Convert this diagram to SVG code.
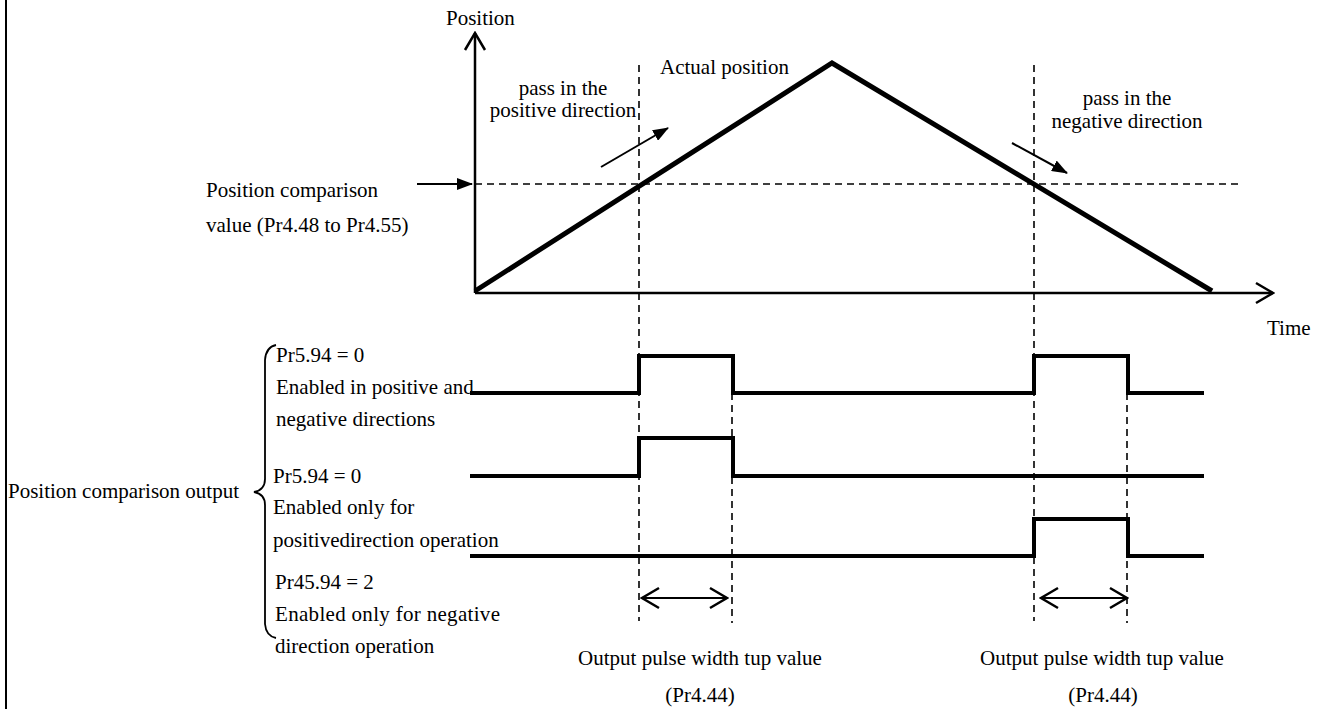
<svg xmlns="http://www.w3.org/2000/svg" width="1317" height="709" viewBox="0 0 1317 709">
<style>
text{font-family:"Liberation Serif","Times New Roman",serif;font-size:21px;fill:#000}
.c{text-anchor:middle}
.dash{stroke:#000;stroke-width:1.6;stroke-dasharray:7,5;fill:none}
.axis{stroke:#000;stroke-width:2.5;fill:none}
.thick{stroke:#000;stroke-width:5;fill:none;stroke-linejoin:miter}
.sig{stroke:#000;stroke-width:4;fill:none;stroke-linejoin:miter}
.arr{stroke:#000;stroke-width:2;fill:none}
</style>
<defs>
<marker id="open" viewBox="0 0 20 24" refX="18" refY="12" markerWidth="20" markerHeight="24" markerUnits="userSpaceOnUse" orient="auto-start-reverse">
<path d="M1,2 L18,12 L1,22" fill="none" stroke="#000" stroke-width="2.5"/>
</marker>
<marker id="fill" viewBox="0 0 16 12" refX="15" refY="6" markerWidth="16" markerHeight="12" markerUnits="userSpaceOnUse" orient="auto">
<path d="M0,0 L16,6 L0,12 z" fill="#000"/>
</marker>
</defs>
<line x1="6" y1="0" x2="6" y2="709" stroke="#000" stroke-width="2"/>
<g id="axes">
<line class="axis" x1="475" y1="293" x2="475" y2="33" marker-end="url(#open)"/>
<line class="axis" x1="475" y1="293" x2="1273" y2="293" marker-end="url(#open)"/>
<text x="446" y="25">Position</text>
<text x="1267" y="335">Time</text>
</g>
<g id="guides">
<line class="dash" x1="475" y1="184" x2="1240" y2="184"/>
<line class="dash" x1="639" y1="65" x2="639" y2="621"/>
<line class="dash" x1="1034" y1="65" x2="1034" y2="621"/>
<line class="dash" x1="732" y1="393" x2="732" y2="623"/>
<line class="dash" x1="1127" y1="393" x2="1127" y2="623"/>
</g>
<g id="actual-position">
<polyline class="thick" points="475,291 832,63 1212,291"/>
<text x="660" y="74">Actual position</text>
</g>
<g id="comparison-value">
<text x="206" y="197">Position comparison</text>
<text x="206" y="232">value (Pr4.48 to Pr4.55)</text>
</g>
<g id="pass-positive">
<text class="c" x="563" y="95">pass in the</text>
<text class="c" x="563" y="117">positive direction</text>
</g>
<g id="pass-negative">
<text class="c" x="1127" y="105">pass in the</text>
<text class="c" x="1127" y="128">negative direction</text>
</g>
<g id="connectors">
<line class="arr" x1="417" y1="184" x2="472" y2="184" marker-end="url(#fill)"/>
<line class="arr" x1="601" y1="167" x2="668" y2="128" marker-end="url(#fill)"/>
<line class="arr" x1="1012" y1="143" x2="1067" y2="173" marker-end="url(#fill)"/>
<line class="arr" x1="642" y1="598" x2="727" y2="598" marker-start="url(#open)" marker-end="url(#open)"/>
<line class="arr" x1="1041" y1="598" x2="1127" y2="598" marker-start="url(#open)" marker-end="url(#open)"/>
</g>
<g id="signal-both">
<polyline class="sig" points="470,393 639,393 639,356 733,356 733,393 1034,393 1034,356 1128,356 1128,393 1204,393"/>
<text x="276" y="362">Pr5.94 = 0</text>
<text x="276" y="394">Enabled in positive and</text>
<text x="276" y="426">negative directions</text>
</g>
<g id="signal-positive">
<polyline class="sig" points="470,476 639,476 639,438 733,438 733,476 1204,476"/>
<text x="273" y="483">Pr5.94 = 0</text>
<text x="273" y="514">Enabled only for</text>
<text x="273" y="547">positivedirection operation</text>
</g>
<g id="signal-negative">
<polyline class="sig" points="470,556 1034,556 1034,519 1128,519 1128,556 1204,556"/>
<text x="275" y="589">Pr45.94 = 2</text>
<text x="275" y="621" textLength="225" lengthAdjust="spacing">Enabled only for negative</text>
<text x="275" y="653">direction operation</text>
</g>
<g id="output-label">
<text x="8" y="498">Position comparison output</text>
<path d="M276,345 Q266,347 265,360 L265,479 Q265,490 254,492 Q265,494 265,505 L265,624 Q266,636 276,638" fill="none" stroke="#000" stroke-width="1.8"/>
</g>
<g id="pulse-width-1">
<text class="c" x="700" y="665">Output pulse width tup value</text>
<text class="c" x="700" y="702">(Pr4.44)</text>
</g>
<g id="pulse-width-2">
<text class="c" x="1102" y="665">Output pulse width tup value</text>
<text class="c" x="1103" y="702">(Pr4.44)</text>
</g>
</svg>
